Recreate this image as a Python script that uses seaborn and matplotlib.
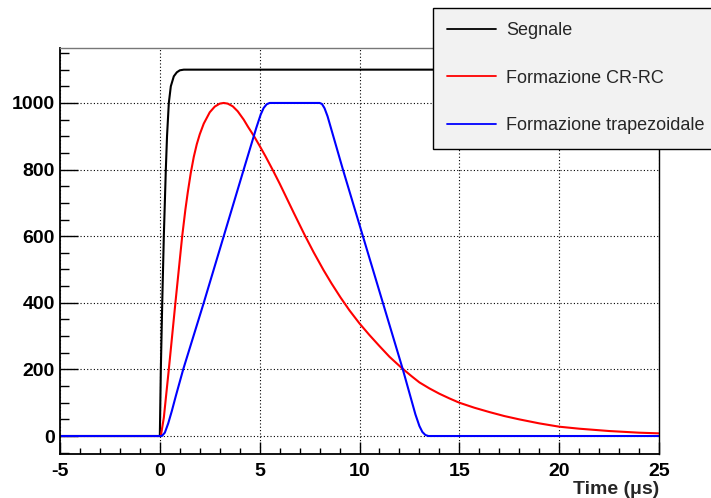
import numpy as np
import pandas as pd
import matplotlib
matplotlib.use("Agg")
import matplotlib.pyplot as plt
import seaborn as sns
from matplotlib.ticker import MultipleLocator

# --- Values (time in us, amplitude) ---
t_segnale = [-5, -2.5, 0.0, 0.05, 0.12, 0.2, 0.25, 0.3, 0.36, 0.45, 0.55, 0.7, 0.85, 1.0,
             1.2, 5, 10, 15, 20, 25]
y_segnale = [0, 0, 0, 200, 400, 600, 700, 800, 900, 1000, 1050, 1080, 1092, 1098,
             1100, 1100, 1100, 1100, 1100, 1100]

t_crrc = [-5, 0.05, 0.2, 0.45, 0.78, 1.12, 1.28, 1.4, 1.55, 1.7, 1.85, 2.0, 2.2, 2.5,
          2.75, 3.0, 3.2, 3.4, 3.65, 3.9, 4.2, 4.42, 4.72, 5.0, 5.3, 5.67, 6.0, 6.25,
          6.7, 7.25, 7.7, 8.2, 8.6, 9.05, 9.5, 10.0, 10.5, 11.0, 11.5, 12.1, 12.6,
          13.0, 13.5, 14.0, 14.5, 15.0, 15.75, 16.5, 17.25, 18.0, 19.0, 20.0, 21.0,
          22.5, 24.0, 25.0]
y_crrc = [0, 0, 55, 200, 400, 600, 680, 732, 790, 838, 876, 906, 938, 972,
          989, 998, 1000, 998, 990, 975, 950, 928, 900, 871, 839, 797, 758, 727,
          671, 604, 552, 498, 458, 416, 377, 338, 303, 270, 238, 205, 180,
          161, 143, 127, 113, 100, 85, 72, 60, 50, 38, 28, 22,
          15, 10, 8]

t_trap = [-5, 0.1, 0.25, 0.42, 0.6, 0.8, 1.17, 2.2, 3.2, 4.2, 4.83, 5.05, 5.2, 5.35,
          5.5, 8.0, 8.12, 8.25, 8.4, 9.17, 10.17, 11.17, 12.17, 12.8, 13.0, 13.15,
          13.3, 13.45, 25]
y_trap = [0, 0, 10, 38, 75, 120, 200, 400, 600, 800, 925, 965, 985, 996,
          1000, 1000, 997, 984, 960, 800, 600, 400, 200, 65, 30, 12,
          3, 0, 0]

labels = ["Segnale", "Formazione CR-RC", "Formazione trapezoidale"]
colors = ["black", "red", "blue"]

sns.set_theme(style="white")
plt.rcParams["font.family"] = ["Liberation Sans", "DejaVu Sans"]
plt.rcParams["axes.unicode_minus"] = False

fig = plt.figure(figsize=(7.11, 4.98), dpi=100)
ax = fig.add_axes([60 / 711, 1 - 454 / 498, 599 / 711, 406 / 498])

series = [(t_segnale, y_segnale), (t_crrc, y_crrc), (t_trap, y_trap)]
for (tt, yy), lab, col in zip(series, labels, colors):
    sns.lineplot(x=tt, y=yy, ax=ax, color=col, linewidth=1.5, label=lab,
                 estimator=None, sort=False)

ax.set_xlim(-5, 25)
ax.set_ylim(-54, 1165)

ax.xaxis.set_major_locator(MultipleLocator(5))
ax.xaxis.set_minor_locator(MultipleLocator(1))
ax.yaxis.set_major_locator(MultipleLocator(200))
ax.yaxis.set_minor_locator(MultipleLocator(50))

ax.tick_params(axis="both", which="both", direction="in", colors="black",
               labelsize=14, width=1, bottom=True, left=True, top=False, right=False)
ax.tick_params(axis="y", which="major", length=13, pad=3.6)
ax.tick_params(axis="y", which="minor", length=6.5)
ax.tick_params(axis="x", which="major", length=8.6, pad=6.5)
ax.tick_params(axis="x", which="minor", length=4.3)
for lbl in ax.get_xticklabels() + ax.get_yticklabels():
    lbl.set_fontweight("bold")

ax.grid(True, which="major", linestyle=(0, (1, 2)), color="black", linewidth=0.8)

for side in ["left", "bottom"]:
    ax.spines[side].set_color("black")
    ax.spines[side].set_linewidth(1.3)
ax.spines["right"].set_color("black")
ax.spines["right"].set_linewidth(1)
ax.spines["top"].set_color("#777777")
ax.spines["top"].set_linewidth(1)

ax.set_xlabel("Time (μs)", loc="right", fontsize=14, fontweight="bold", labelpad=1)
ax.set_ylabel("")

handles, labs = ax.get_legend_handles_labels()
ax.get_legend().remove()
leg = fig.legend(handles, labs, loc="upper left",
                 bbox_to_anchor=(433 / 711, 1 - 8 / 498), bbox_transform=fig.transFigure,
                 fontsize=13, frameon=True, fancybox=False, facecolor="#f2f2f2",
                 edgecolor="black", framealpha=1, borderpad=0.8, handlelength=2.7,
                 handletextpad=0.55, labelspacing=1.68, borderaxespad=0)
leg.get_frame().set_linewidth(1)
for line in leg.get_lines():
    line.set_linewidth(1.3)

fig.savefig("out.png", dpi=100)
